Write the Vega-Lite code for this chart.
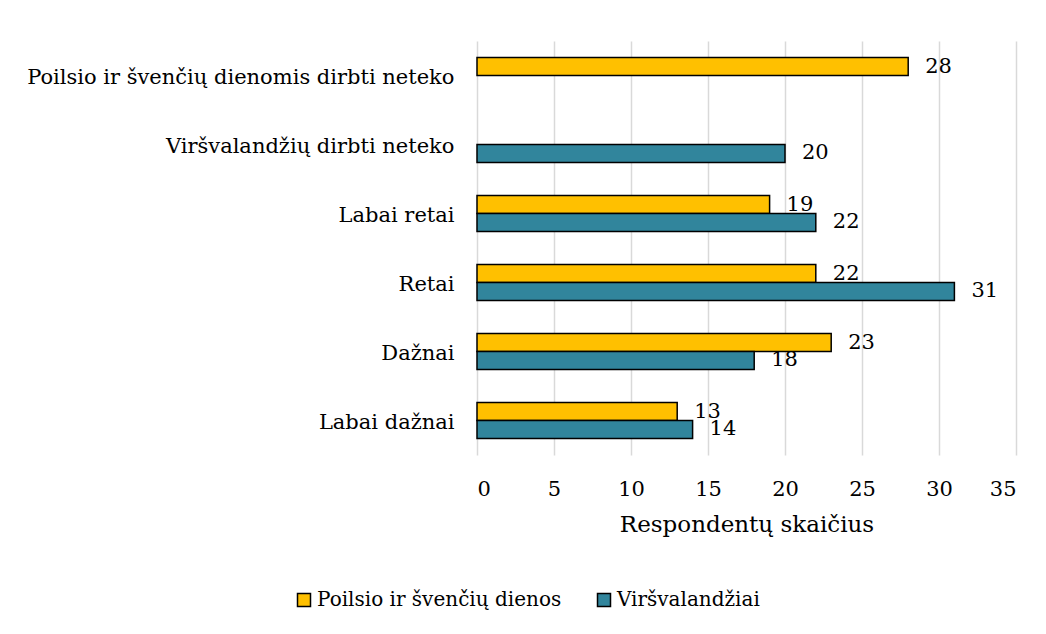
{
  "$schema": "https://vega.github.io/schema/vega-lite/v6.json",
  "width": 539,
  "height": 414,
  "autosize": "none",
  "padding": {"left": 477, "top": 41, "right": 30, "bottom": 179},
  "background": "white",
  "config": {
    "font": "DejaVu Serif",
    "view": {"stroke": null},
    "axis": {"labelFont": "DejaVu Serif", "titleFont": "DejaVu Serif", "labelColor": "#000000", "titleColor": "#000000", "titleFontWeight": "normal"},
    "legend": {"labelFont": "DejaVu Serif"}
  },
  "data": {
    "values": [
      {"kategorija": "Poilsio ir švenčių dienomis dirbti neteko", "serija": "Poilsio ir švenčių dienos", "reiksme": 28},
      {"kategorija": "Viršvalandžių dirbti neteko", "serija": "Viršvalandžiai", "reiksme": 20},
      {"kategorija": "Labai retai", "serija": "Poilsio ir švenčių dienos", "reiksme": 19},
      {"kategorija": "Labai retai", "serija": "Viršvalandžiai", "reiksme": 22},
      {"kategorija": "Retai", "serija": "Poilsio ir švenčių dienos", "reiksme": 22},
      {"kategorija": "Retai", "serija": "Viršvalandžiai", "reiksme": 31},
      {"kategorija": "Dažnai", "serija": "Poilsio ir švenčių dienos", "reiksme": 23},
      {"kategorija": "Dažnai", "serija": "Viršvalandžiai", "reiksme": 18},
      {"kategorija": "Labai dažnai", "serija": "Poilsio ir švenčių dienos", "reiksme": 13},
      {"kategorija": "Labai dažnai", "serija": "Viršvalandžiai", "reiksme": 14}
    ]
  },
  "encoding": {
    "y": {
      "field": "kategorija",
      "type": "nominal",
      "sort": ["Poilsio ir švenčių dienomis dirbti neteko", "Viršvalandžių dirbti neteko", "Labai retai", "Retai", "Dažnai", "Labai dažnai"],
      "scale": {"paddingInner": 0.48, "paddingOuter": 0.24},
      "axis": {"title": null, "domain": false, "ticks": false, "labelFontSize": 21, "labelPadding": 23, "labelLimit": 500, "labelOffset": 2}
    },
    "yOffset": {
      "field": "serija",
      "type": "nominal",
      "sort": ["Poilsio ir švenčių dienos", "Viršvalandžiai"],
      "scale": {"paddingInner": 0, "paddingOuter": 0}
    },
    "x": {
      "field": "reiksme",
      "type": "quantitative",
      "scale": {"domain": [0, 35], "nice": false},
      "axis": {
        "title": "Respondentų skaičius",
        "values": [0, 5, 10, 15, 20, 25, 30, 35],
        "domain": false,
        "ticks": false,
        "grid": true,
        "gridColor": "#d9d9d9",
        "gridWidth": 1.5,
        "labelFontSize": 21,
        "labelPadding": 23,
        "titleFontSize": 23,
        "titlePadding": 14
      }
    }
  },
  "layer": [
    {
      "mark": {"type": "bar", "stroke": "#000000", "strokeWidth": 1.5},
      "encoding": {
        "color": {
          "field": "serija",
          "type": "nominal",
          "sort": ["Poilsio ir švenčių dienos", "Viršvalandžiai"],
          "scale": {"domain": ["Poilsio ir švenčių dienos", "Viršvalandžiai"], "range": ["#FFC000", "#31859C"]},
          "legend": {
            "title": null,
            "orient": "none",
            "direction": "horizontal",
            "legendX": -183,
            "legendY": 549,
            "symbolType": "square",
            "symbolSize": 169,
            "symbolStrokeColor": "#000000",
            "symbolStrokeWidth": 1.5,
            "symbolOpacity": 1,
            "labelFontSize": 20,
            "labelColor": "#000000",
            "labelOffset": 3,
            "columnPadding": 32,
            "labelLimit": 400
          }
        }
      }
    },
    {
      "mark": {"type": "text", "align": "left", "baseline": "middle", "dx": 17, "fontSize": 21, "color": "#000000", "font": "DejaVu Serif"},
      "encoding": {
        "text": {"field": "reiksme", "type": "quantitative"}
      }
    }
  ]
}
